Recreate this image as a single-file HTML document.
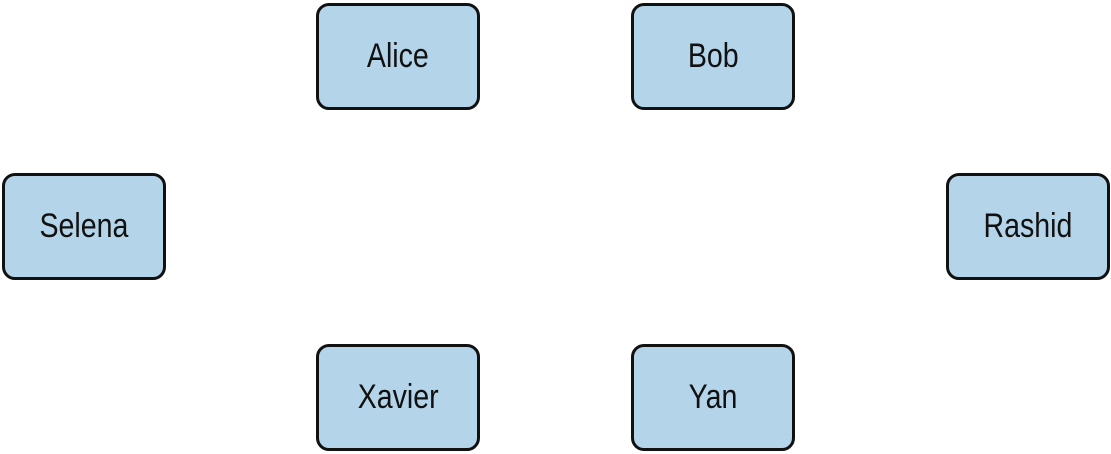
<!DOCTYPE html>
<html><head><meta charset="utf-8"><style>
html,body{margin:0;padding:0;background:#fff;}
body{width:1111px;height:454px;position:relative;overflow:hidden;}
.n{position:absolute;width:158px;height:101px;border:3px solid #111;border-radius:13px;background:#b3d4e9;display:flex;align-items:center;justify-content:center;}
.n span{font-family:"Liberation Sans",sans-serif;font-size:34px;color:#111;transform:scaleX(0.84);display:inline-block;}
</style></head><body>
<div class="n" style="left:316px;top:3px"><span>Alice</span></div>
<div class="n" style="left:631px;top:3px"><span>Bob</span></div>
<div class="n" style="left:2px;top:173px"><span>Selena</span></div>
<div class="n" style="left:946px;top:173px"><span>Rashid</span></div>
<div class="n" style="left:316px;top:344px"><span>Xavier</span></div>
<div class="n" style="left:631px;top:344px"><span>Yan</span></div>
</body></html>
